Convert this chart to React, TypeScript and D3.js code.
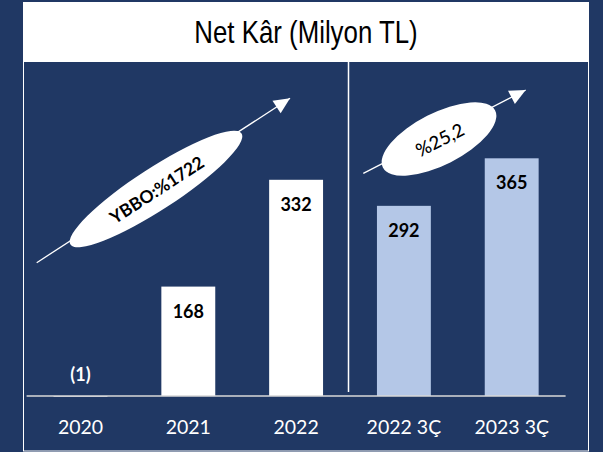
import React from "react";
import * as d3 from "d3";

const categories = ["2020", "2021", "2022", "2022 3Ç", "2023 3Ç"];
const netProfit = [-1, 168, 332, 292, 365];
const valueLabels = ["(1)", "168", "332", "292", "365"];
const periodKinds = ["year", "year", "year", "quarter", "quarter"];
const growthLabels = ["YBBO:%1722", "%25,2"];

const W = 603;
const H = 452;
const NAVY = "#203864";
const LIGHT_BLUE = "#b4c7e7";
const FONT = "Lato, 'Open Sans', sans-serif";

const App = () => {
  const x = d3
    .scaleBand<string>()
    .domain(categories)
    .range([26.6, 565.6])
    .paddingInner(0.5)
    .paddingOuter(0.25);
  const y = d3.scaleLinear().domain([0, 365]).range([396, 158.3]);

  const bw = x.bandwidth();
  const dividerX =
    ((x("2022") as number) + bw + (x("2022 3Ç") as number)) / 2 - 1.5;

  // trend arrows with ellipse callouts
  const arrows = [
    { x1: 36.7, y1: 262.7, x2: 290, y2: 98.3, cx: 156, cy: 189, rx: 102, ry: 21, rot: -33, size: 17.5, weight: 700 },
    { x1: 363.3, y1: 173.3, x2: 525.7, y2: 90, cx: 439, cy: 139, rx: 63, ry: 26, rot: -27, size: 18.5, weight: 500 },
  ];

  return (
    <div style={{ position: "absolute", left: 0, top: 0 }}>
      <svg width={W} height={H} style={{ display: "block" }}>
        <rect x={0} y={0} width={W} height={H} fill={NAVY} />
        {/* frame */}
        <rect x={23.5} y={2.5} width={565} height={448.5} fill="none" stroke="#ffffff" strokeWidth={1} />
        <rect x={23.5} y={2.5} width={565} height={59.5} fill="#ffffff" />
        <g transform="translate(306,43.3) scale(0.82,1)">
          <text
            x={0}
            y={0}
            textAnchor="middle"
            fontFamily="'Liberation Sans', Arial, sans-serif"
            fontSize={31.5}
            fill="#000000"
          >
            Net Kâr (Milyon TL)
          </text>
        </g>

        <line x1={dividerX} x2={dividerX} y1={62} y2={392} stroke="#ffffff" strokeWidth={1.5} />

        {/* bars */}
        {categories.map((c, i) => {
          const v = netProfit[i];
          const top = Math.min(y(v), y(0));
          const h = Math.abs(y(v) - y(0));
          return (
            <rect
              key={c}
              x={x(c)}
              y={top}
              width={bw}
              height={h}
              fill={periodKinds[i] === "year" ? "#ffffff" : LIGHT_BLUE}
            />
          );
        })}

        <line x1={26.6} x2={565.6} y1={y(0)} y2={y(0)} stroke="#d9d9d9" strokeWidth={1.5} />

        {/* value labels */}
        {categories.map((c, i) => {
          const v = netProfit[i];
          const cx = (x(c) as number) + bw / 2;
          const neg = v < 0;
          return (
            <text
              key={c}
              x={cx}
              y={neg ? y(0) - 15 : y(v) + 31}
              textAnchor="middle"
              fontFamily={FONT}
              fontWeight={700}
              fontSize={18}
              fill={neg ? "#ffffff" : "#000000"}
            >
              {valueLabels[i]}
            </text>
          );
        })}

        {/* category labels */}
        {categories.map((c) => (
          <text
            key={c}
            x={(x(c) as number) + bw / 2}
            y={434.3}
            textAnchor="middle"
            fontFamily={FONT}
            fontSize={19.5}
            fill="#ffffff"
          >
            {c}
          </text>
        ))}

        {arrows.map((a, i) => {
          const ang = (Math.atan2(a.y2 - a.y1, a.x2 - a.x1) * 180) / Math.PI;
          return (
            <g key={i}>
              <line x1={a.x1} y1={a.y1} x2={a.x2} y2={a.y2} stroke="#ffffff" strokeWidth={1.3} />
              <polygon
                points="0,0 -16,-7.5 -16,7.5"
                fill="#ffffff"
                transform={`translate(${a.x2},${a.y2}) rotate(${ang})`}
              />
              <ellipse
                cx={0}
                cy={0}
                rx={a.rx}
                ry={a.ry}
                fill="#ffffff"
                transform={`translate(${a.cx},${a.cy}) rotate(${a.rot})`}
              />
              <text
                x={0}
                y={0}
                dy="0.35em"
                textAnchor="middle"
                fontFamily={FONT}
                fontWeight={a.weight}
                fontSize={a.size}
                fill="#000000"
                transform={`translate(${a.cx + 1},${a.cy + 1}) rotate(${a.rot})`}
              >
                {growthLabels[i]}
              </text>
            </g>
          );
        })}
      </svg>
    </div>
  );
};

export default App;
